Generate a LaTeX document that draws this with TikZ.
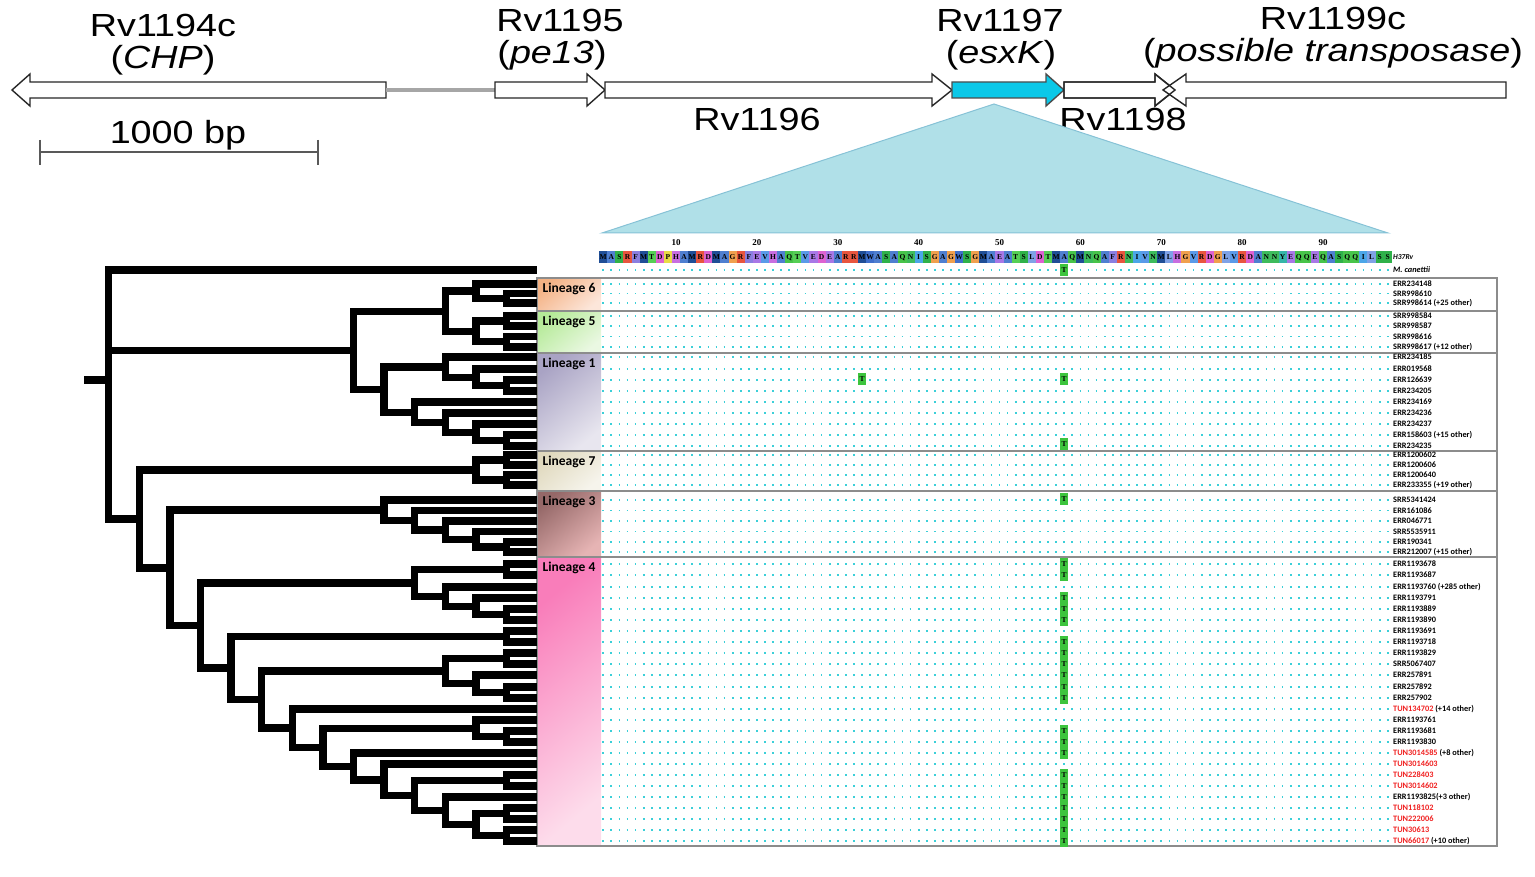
\documentclass[tikz,border=0pt]{standalone}
\usepackage{fontspec}
\setmainfont{Liberation Sans}
\newfontfamily\calib{Carlito}
\newfontfamily\seqfont{Liberation Serif}
\usetikzlibrary{calc}

\definecolor{aaM}{HTML}{1F4E96}
\definecolor{aaA}{HTML}{4F7FD0}
\definecolor{aaS}{HTML}{2FB14A}
\definecolor{aaR}{HTML}{E8553E}
\definecolor{aaF}{HTML}{8A7FE0}
\definecolor{aaT}{HTML}{55CF55}
\definecolor{aaD}{HTML}{DD62D2}
\definecolor{aaP}{HTML}{E8DC45}
\definecolor{aaH}{HTML}{C86EE0}
\definecolor{aaG}{HTML}{F0A04E}
\definecolor{aaE}{HTML}{A878E6}
\definecolor{aaV}{HTML}{5A9AE8}
\definecolor{aaQ}{HTML}{47C44A}
\definecolor{aaW}{HTML}{3F6FCB}
\definecolor{aaN}{HTML}{3DBB5C}
\definecolor{aaI}{HTML}{4CA6E8}
\definecolor{aaL}{HTML}{7FA2E6}
\definecolor{aaY}{HTML}{35B5A8}
\definecolor{dotcyan}{HTML}{3CCFD8}
\definecolor{mutgreen}{HTML}{3DC43D}
\definecolor{tunred}{HTML}{F02020}
\definecolor{esxcyan}{HTML}{0BC8E8}
\definecolor{trifill}{HTML}{B0E0E8}
\definecolor{triedge}{HTML}{86C2D6}
\definecolor{lin6a}{HTML}{F4B183}
\definecolor{lin6b}{HTML}{FCE6DA}
\definecolor{lin5a}{HTML}{B5EA98}
\definecolor{lin5b}{HTML}{EAF8E2}
\definecolor{lin1a}{HTML}{A9A3C4}
\definecolor{lin1b}{HTML}{E8E6EF}
\definecolor{lin7a}{HTML}{E0D9BE}
\definecolor{lin7b}{HTML}{F6F4EC}
\definecolor{lin3a}{HTML}{956868}
\definecolor{lin3b}{HTML}{E6B4B4}
\definecolor{lin4a}{HTML}{F97DBA}
\definecolor{lin4b}{HTML}{FDDCEB}

\tikzset{
  branch/.style={line width=7.4pt, line join=miter},
  gene/.style={draw=black!85, line width=1.4pt, fill=white, line join=miter},
  genetxt/.style={font=\fontsize{32}{34}\selectfont, inner sep=0pt},
  acc/.style={anchor=west, inner sep=0pt, font=\calib\bfseries\fontsize{8.3}{9}\selectfont},
  dots/.style={draw=dotcyan, line width=1.7pt, dash pattern=on 1.7pt off 6.3875pt},
  res/.style={minimum width=8.09pt, minimum height=12pt, inner sep=0pt, font=\seqfont\bfseries\fontsize{7.5}{8}\selectfont},
  mutbox/.style={fill=mutgreen, minimum width=8pt, minimum height=11.2pt, inner sep=0pt, font=\seqfont\bfseries\fontsize{7.5}{8}\selectfont},
  frame/.style={draw=black!45, line width=1.2pt},
  linlbl/.style={font=\calib\bfseries\fontsize{13.5}{15}\selectfont, inner sep=0pt},
  numlbl/.style={font=\seqfont\bfseries\fontsize{9}{10}\selectfont, inner sep=0pt},
}

% gene arrow: start, head base, tip
\newcommand\genearrow[4][]{\draw[gene,#1] (#2,82) -- (#3,82) -- (#3,74) -- (#4,90) -- (#3,106) -- (#3,98) -- (#2,98) -- cycle;}
% clade: name, height, first child, last child
\newcommand\clade[4]{\path let \p1=(#3), \p2=(#4) in coordinate (#1) at ({(537-30.6*#2)*1pt},{0.5*\y1+0.5*\y2});
  \draw[branch] (#1) |- (#3) (#1) |- (#4);}
% alignment row: name, y, label
\newcommand\seqrow[3]{\coordinate (#1) at (537,#2);
  \draw[dots] (602.4,#2) -- (1392,#2);
  \node[acc] (#1-t) at (1393,#2) {#3};}
\newcommand\mutT[2]{\node[mutbox] at ({676+8.0875*(#1-10)},#2) {T};}
\newcommand\lineage[3]{\shade[top color=lin#1a, bottom color=lin#1b, shading angle=40] (537.6,#2) rectangle (601,#3);
  \draw[frame] (537,#2) rectangle (1497,#3);
  \node[linlbl, anchor=north] (lin#1) at (569,#2+5) {Lineage #1};}
\newcommand\tun[1]{\textcolor{tunred}{#1}}

\begin{document}
\begin{tikzpicture}[x=1pt,y=-1pt]
\useasboundingbox (0,0) rectangle (1535,877);

% gene map
\genearrow{386}{30}{12}
\draw[draw=black!35, line width=4pt] (386,90) -- (495,90);
\genearrow{495}{587}{605}
\genearrow{605}{932}{952}
\genearrow[fill=esxcyan, draw=black!70]{952}{1046}{1064}
\genearrow{1064}{1155}{1175}
\genearrow{1506}{1186}{1163}
\genearrow[fill=none]{1064}{1155}{1175}

\node[genetxt] (g1194) at (163,25) {\scalebox{1.18}[1]{Rv1194c}};
\node[genetxt] (g1194b) at (163,60) {\scalebox{1.18}[1]{(\textit{CHP})}};
\node[genetxt] (g1195) at (560,20) {\scalebox{1.18}[1]{Rv1195}};
\node[genetxt] (g1195b) at (552,55) {\scalebox{1.18}[1]{(\textit{pe13})}};
\node[genetxt] (g1196) at (757,119) {\scalebox{1.18}[1]{Rv1196}};
\node[genetxt] (g1197) at (1000,20) {\scalebox{1.18}[1]{Rv1197}};
\node[genetxt] (g1197b) at (1001,55) {\scalebox{1.18}[1]{(\textit{esxK})}};
\node[genetxt] (g1198) at (1123,119) {\scalebox{1.18}[1]{Rv1198}};
\node[genetxt] (g1199) at (1333,18) {\scalebox{1.18}[1]{Rv1199c}};
\node[genetxt] (g1199b) at (1333,53) {\scalebox{1.18}[1]{(\textit{possible transposase})}};

% scale bar
\node[genetxt] (bar) at (178,135) {\scalebox{1.18}[1]{1000 bp}};
\draw[black!65, line width=1.6pt] (40,152) -- (318,152) (40,140) -- (40,165) (318,140) -- (318,165);

% zoom triangle
\filldraw[fill=trifill, draw=triedge, line width=1pt] (994,104) -- (1388,233) -- (602,233) -- cycle;

% ruler and reference sequence
\foreach \k in {10,20,...,90} {\node[numlbl] at ({676+8.0875*(\k-10)},243) {\k};}
\foreach \a [count=\i] in {M,A,S,R,F,M,T,D,P,H,A,M,R,D,M,A,G,R,F,E,V,H,A,Q,T,V,E,D,E,A,R,R,M,W,A,S,A,Q,N,I,S,G,A,G,W,S,G,M,A,E,A,T,S,L,D,T,M,A,Q,M,N,Q,A,F,R,N,I,V,N,M,L,H,G,V,R,D,G,L,V,R,D,A,N,N,Y,E,Q,Q,E,Q,A,S,Q,Q,I,L,S,S}
  {\node[res, fill=aa\a] at ({676+8.0875*(\i-10)},257.5) {\a};}
\node[acc, font=\calib\bfseries\itshape\fontsize{7.5}{9}\selectfont] (ref) at (1393,257.5) {H37Rv};

% lineage blocks
\lineage{6}{278}{311}
\lineage{5}{311}{353}
\lineage{1}{353}{451}
\lineage{7}{451}{491}
\lineage{3}{491}{557}
\lineage{4}{557}{846}

% alignment rows
\seqrow{can}{270}{\textit{M. canettii}}
\seqrow{l6a}{284}{ERR234148}
\seqrow{l6b}{293.5}{SRR998610}
\seqrow{l6c}{303}{SRR998614 (+25 other)}
\seqrow{l5a}{316}{SRR998584}
\seqrow{l5b}{326}{SRR998587}
\seqrow{l5c}{336.5}{SRR998616}
\seqrow{l5d}{347}{SRR998617 (+12 other)}
\seqrow{l1a}{357}{ERR234185}
\seqrow{l1b}{369}{ERR019568}
\seqrow{l1c}{380}{ERR126639}
\seqrow{l1d}{391}{ERR234205}
\seqrow{l1e}{402}{ERR234169}
\seqrow{l1f}{413}{ERR234236}
\seqrow{l1g}{424}{ERR234237}
\seqrow{l1h}{435}{ERR158603 (+15 other)}
\seqrow{l1i}{446}{ERR234235}
\seqrow{l7a}{455}{ERR1200602}
\seqrow{l7b}{465}{ERR1200606}
\seqrow{l7c}{475}{ERR1200640}
\seqrow{l7d}{485}{ERR233355 (+19 other)}
\seqrow{l3a}{500}{SRR5341424}
\seqrow{l3b}{510.5}{ERR161086}
\seqrow{l3c}{521}{ERR046771}
\seqrow{l3d}{531.5}{SRR5535911}
\seqrow{l3e}{542}{ERR190341}
\seqrow{l3f}{552}{ERR212007 (+15 other)}
\seqrow{l4a}{564}{ERR1193678}
\seqrow{l4b}{575}{ERR1193687}
\seqrow{l4c}{587}{ERR1193760 (+285 other)}
\seqrow{l4d}{598}{ERR1193791}
\seqrow{l4e}{609}{ERR1193889}
\seqrow{l4f}{620}{ERR1193890}
\seqrow{l4g}{631}{ERR1193691}
\seqrow{l4h}{642}{ERR1193718}
\seqrow{l4i}{653}{ERR1193829}
\seqrow{l4j}{664}{SRR5067407}
\seqrow{l4k}{675}{ERR257891}
\seqrow{l4l}{687}{ERR257892}
\seqrow{l4m}{698}{ERR257902}
\seqrow{l4n}{709}{\tun{TUN134702} (+14 other)}
\seqrow{l4o}{720}{ERR1193761}
\seqrow{l4p}{731}{ERR1193681}
\seqrow{l4q}{742}{ERR1193830}
\seqrow{l4r}{753}{\tun{TUN3014585} (+8 other)}
\seqrow{l4s}{764}{\tun{TUN3014603}}
\seqrow{l4t}{775}{\tun{TUN228403}}
\seqrow{l4u}{786}{\tun{TUN3014602}}
\seqrow{l4v}{797}{ERR1193825(+3 other)}
\seqrow{l4w}{808}{\tun{TUN118102}}
\seqrow{l4x}{819}{\tun{TUN222006}}
\seqrow{l4y}{830}{\tun{TUN30613}}
\seqrow{l4z}{841}{\tun{TUN66017} (+10 other)}

% substitutions
\mutT{58}{270}
\mutT{33}{379}
\mutT{58}{379}
\mutT{58}{444}
\mutT{58}{499}
\foreach \y in {564,575,598,609,620,642,653,664,675,687,698,731,742,753,775,786,797,808,819,830,841}
  {\mutT{58}{\y}}

% tree
\clade{c6p}{1}{l6b}{l6c}
\clade{c6}{2}{l6a}{c6p}
\clade{c5p}{1}{l5a}{l5b}
\clade{c5q}{1}{l5c}{l5d}
\clade{c5}{2}{c5p}{c5q}
\clade{c56}{3}{c6}{c5}
\clade{c1p}{1}{l1c}{l1d}
\clade{c1q}{2}{l1b}{c1p}
\clade{c1r}{3}{l1a}{c1q}
\clade{c1s}{1}{l1h}{l1i}
\clade{c1t}{2}{l1g}{c1s}
\clade{c1u}{3}{l1f}{c1t}
\clade{c1v}{4}{l1e}{c1u}
\clade{c1}{5}{c1r}{c1v}
\clade{c156}{6}{c56}{c1}
\clade{c7p}{1}{l7a}{l7b}
\clade{c7q}{1}{l7c}{l7d}
\clade{c7}{2}{c7p}{c7q}
\clade{c3p}{1}{l3e}{l3f}
\clade{c3q}{2}{l3d}{c3p}
\clade{c3r}{3}{l3c}{c3q}
\clade{c3s}{4}{l3b}{c3r}
\clade{c3}{5}{l3a}{c3s}
\clade{c4a}{1}{l4a}{l4b}
\clade{c4b}{1}{l4e}{l4f}
\clade{c4c}{2}{l4d}{c4b}
\clade{c4d}{3}{l4c}{c4c}
\clade{c4e}{4}{c4a}{c4d}
\clade{c4f}{1}{l4g}{l4h}
\clade{c4g}{1}{l4i}{l4j}
\clade{c4h}{1}{l4l}{l4m}
\clade{c4i}{2}{l4k}{c4h}
\clade{c4j}{3}{c4g}{c4i}
\clade{c4k}{1}{l4p}{l4q}
\clade{c4l}{2}{l4o}{c4k}
\clade{c4m}{1}{l4t}{l4u}
\clade{c4n}{1}{l4w}{l4x}
\clade{c4o}{1}{l4y}{l4z}
\clade{c4p}{2}{c4n}{c4o}
\clade{c4q}{3}{l4v}{c4p}
\clade{c4r}{4}{c4m}{c4q}
\clade{c4s}{5}{l4s}{c4r}
\clade{c4t}{6}{l4r}{c4s}
\clade{c4u}{7}{c4l}{c4t}
\clade{c4v}{8}{l4n}{c4u}
\clade{c4w}{9}{c4j}{c4v}
\clade{c4x}{10}{c4f}{c4w}
\clade{c4}{11}{c4e}{c4x}
\clade{c34}{12}{c3}{c4}
\clade{c347}{13}{c7}{c34}
\path let \p1=(can), \p2=(c156), \p3=(c347) in coordinate (root) at ({(537-30.6*14)*1pt},{(\y1+\y2+\y3)/3});
\draw[branch] (root) |- (can) (root) |- (c156) (root) |- (c347);
\draw[branch] (root) -- ++(-25,0);
\end{tikzpicture}
\end{document}
